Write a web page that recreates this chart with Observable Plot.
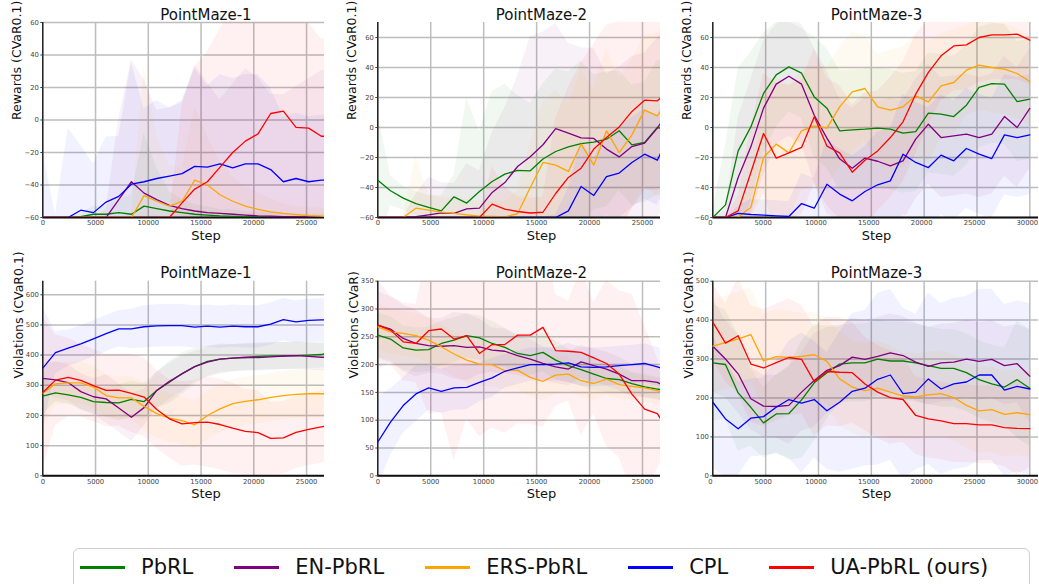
<!DOCTYPE html>
<html><head><meta charset="utf-8">
<script src="https://cdn.jsdelivr.net/npm/d3@7"></script>
<script src="https://cdn.jsdelivr.net/npm/@observablehq/plot@0.6"></script>
<style>
body{margin:0;background:#fff;}
#fig{position:relative;width:1039px;height:584px;overflow:hidden;font-family:"DejaVu Sans",sans-serif;background:#fff;}
.panel{position:absolute;}
#legend{position:absolute;left:73px;top:548px;width:957px;height:60px;border:1px solid #cfcfcf;border-radius:6px;box-sizing:border-box;background:#fff;}
#legend .row{display:flex;align-items:center;height:36px;padding-left:6px;}
#legend .item{display:flex;align-items:center;margin-right:41px;}
#legend .sw{width:45px;height:3px;margin-right:16px;}
#legend .lab{font-size:21px;color:#111;white-space:nowrap;}
</style>
</head><body>
<div id="fig"><div id="legend"><div class="row"></div></div></div>
<script>
// ---------- data ----------
const methods = ["PbRL", "EN-PbRL", "ERS-PbRL", "CPL", "UA-PbRL (ours)"];
const methodColors = ["green", "purple", "orange", "blue", "red"];

const steps27 = [0,1200,2400,3600,4800,6000,7200,8400,9600,10800,12000,13200,14400,15600,16800,18000,19200,20400,21600,22800,24000,25200,26400,26700];
const steps30 = [0,1200,2400,3600,4800,6000,7200,8400,9600,10800,12000,13200,14400,15600,16800,18000,19200,20400,21600,22800,24000,25200,26400,27600,28800,30000];

const xTicks27 = [0,5000,10000,15000,20000,25000];
const xTicks30 = [0,5000,10000,15000,20000,25000,30000];
const yTicksRew = [-60,-40,-20,0,20,40,60];
const yTicksVio1 = [0,100,200,300,400,500,600];
const yTicksVio2 = [0,50,100,150,200,250,300,350];
const yTicksVio3 = [0,100,200,300,400,500];

// Rewards (CVaR0.1), PointMaze-1 — order: PbRL, EN-PbRL, ERS-PbRL, CPL, UA-PbRL
const rewPM1 = [
  [-60,-60,-60,-59.5,-58,-58,-57,-58,-53,-54.5,-56,-57,-58,-58.5,-59,-59.3,-59.5,-59.7,-59.8,-59.9,-60,-60,-60,-60],
  [-60,-60,-60,-60,-60,-60,-49,-38,-45,-49,-52.5,-54.5,-56,-57,-57.5,-58,-58.5,-59,-59.2,-59.4,-59.5,-59.6,-59.7,-59.7],
  [-60,-60,-60,-60,-60,-60,-60,-60,-46.5,-50,-53,-50,-37,-40,-46,-50,-53,-55,-56.5,-57.5,-58.2,-58.8,-59.2,-59.3],
  [-60,-60,-60,-55.5,-57,-50.5,-47,-39.5,-38,-36,-34.5,-33,-28.5,-29,-27,-29.5,-27,-27,-30.5,-38,-36,-38,-37,-37],
  [-60,-60,-60,-60,-60,-60,-60,-60,-60,-60,-60,-51,-42.5,-38,-29,-20,-13,-8.5,4,5.5,-4.5,-5,-10,-10]
];
const rewPM1Sd = [
  [0,0,0,2,5,5,8,12,45,25,12,8,6,5,4,4,3,3,3,2,2,2,2,2],
  [0,0,0,0,0,5,50,75,70,55,60,65,90,80,70,80,90,85,75,75,80,85,90,90],
  [0,0,0,0,0,0,0,0,80,40,25,20,45,30,20,15,12,10,8,6,5,5,5,5],
  [40,2,55,40,30,40,37,75,45,48,42,45,60,50,55,55,55,55,50,40,40,40,40,40],
  [0,0,0,0,0,0,0,0,0,0,0,60,75,80,85,90,85,80,70,65,70,65,60,60]
];

// Rewards (CVaR0.1), PointMaze-2
const rewPM2 = [
  [-35.1,-42.2,-47.1,-50.7,-53.3,-55.6,-46.2,-50.4,-42.7,-36,-31.1,-28.6,-28.9,-21,-16,-12.9,-10.7,-9.8,-7.8,-2.2,-11.6,-10,0,-0.4],
  [-60,-60,-60,-59.5,-58.2,-56.9,-57.3,-54.2,-53.8,-43.3,-36.7,-26,-19.5,-11.5,-0.7,-3.8,-6.9,-7.3,-14.4,-19.6,-12.7,-10.4,-0.4,2.7],
  [-60,-60,-60,-53.8,-55.1,-56.4,-57.3,-58.2,-59.1,-59.3,-59.6,-57.5,-40,-23.3,-25.1,-29.3,-11.1,-25.1,-2.2,-16.7,-4.9,11.6,7.8,10.7],
  [-60,-60,-60,-60,-60,-60,-60,-60,-60,-60,-60,-60,-60,-60,-60,-55.6,-39.3,-45.3,-32.7,-30.4,-23.3,-17.8,-21.8,-17.3],
  [-60,-60,-60,-60,-60,-60,-60,-60,-60,-51.1,-54.4,-56,-57,-56.5,-44,-33.3,-27.1,-14.4,-6.7,0.4,10.7,18.2,17.8,19.6]
];
const rewPM2Sd = [
  [45,10,8,8,8,10,15,70,40,60,60,50,45,50,55,50,55,45,45,40,40,40,45,45],
  [0,0,0,15,25,20,20,30,25,40,50,60,80,75,70,60,60,60,50,60,60,60,60,60],
  [0,0,0,35,10,10,10,10,10,10,10,15,30,40,50,45,50,50,55,50,50,50,55,55],
  [0,0,0,0,0,0,0,0,0,0,0,0,0,0,2,15,30,25,30,30,30,30,30,30],
  [0,0,0,0,0,0,0,0,0,25,15,10,10,10,50,60,70,70,75,70,65,60,60,60]
];

// Rewards (CVaR0.1), PointMaze-3
const rewPM3 = [
  [-60,-51.6,-15.6,0.4,22.7,35.1,40.4,36.2,20.4,12.9,-2.2,-1.6,-1.1,-0.4,-1.1,-3.8,-2.7,9.6,8.9,7.3,14.9,26.7,29.3,28.9,17.3,18.9],
  [-60,-60,-33.3,-12.9,12.9,28.9,34.2,28.9,8.2,-7.1,-20.9,-27.1,-20.4,-22.5,-25.6,-22.2,-7.8,2.2,-6.7,-5.6,-4.4,-6.7,-4.4,7.3,0,12.7],
  [-60,-60,-59.6,-53.3,-20,-11.1,-16.9,-2.2,1.1,-0.4,13.8,23.8,26,13.8,11.6,13.8,21.1,17.1,27.8,30,38.2,41.6,40,38.9,36,30.7],
  [-60,-60,-57.3,-58,-58.4,-58.9,-59.3,-50.7,-53.8,-37.8,-44.4,-48.9,-42.7,-38.2,-35.6,-17.8,-23.3,-26.7,-18.4,-22.2,-14,-17.8,-20.7,-4.9,-6.7,-4.9],
  [-60,-60,-55.6,-30,-4,-20.4,-16.9,-13.3,7.1,-12.4,-16.9,-29.8,-21.8,-15.6,-6.7,3.8,22.2,36.7,47.8,54.4,55.1,60,61.8,61.8,62.2,58.2]
];
const rewPM3Sd = [
  [5,40,55,50,40,35,30,30,40,40,40,40,40,40,40,40,40,40,40,40,40,40,40,40,40,40],
  [0,5,40,45,45,40,40,40,45,45,40,40,40,40,45,40,40,40,40,40,40,40,40,40,40,40],
  [0,0,5,15,40,45,45,40,40,40,40,40,35,35,40,40,40,40,35,35,30,30,30,30,30,30],
  [0,0,5,10,10,10,10,20,20,30,30,30,30,35,35,40,40,40,40,40,40,40,40,40,40,40],
  [0,0,10,30,40,50,45,45,45,45,45,45,45,40,40,40,40,35,30,30,30,30,30,30,30,30]
];

// Violations (CVaR0.1), PointMaze-1
const vioPM1 = [
  [264,275,268,260,246,243,242,253,246,283,310,339,362,379,387,390,392,396,397,397,398,400,402,404],
  [323,318,309,279,262,255,225,194,226,283,313,338,362,377,387,390,393,392,394,397,398,396,393,393],
  [274,305,308,308,294,266,258,258,230,206,191,183,169,200,222,239,247,252,260,266,270,272,272,272],
  [357,408,423,437,454,471,487,487,494,497,498,498,493,496,493,496,494,494,503,518,510,515,517,517],
  [276,317,326,316,299,283,284,273,261,220,189,172,176,178,170,158,147,143,124,126,144,154,162,164]
];
const vioPM1Sd = [
  [60,30,30,40,40,50,60,60,60,60,70,70,60,50,45,45,45,45,45,45,45,45,45,45],
  [40,60,60,60,60,80,80,80,60,60,60,60,50,50,50,45,45,45,45,45,45,45,45,45],
  [120,70,70,70,70,70,70,70,80,80,80,80,80,80,80,80,80,80,80,80,80,80,80,80],
  [200,70,60,60,60,60,60,65,70,70,70,70,70,70,70,70,70,70,70,70,70,70,70,70],
  [250,150,130,120,120,120,120,130,130,130,130,140,140,150,150,150,140,140,120,120,120,120,120,120]
];

// Violations (CVaR), PointMaze-2
const vioPM2 = [
  [253,246,230,226,227,238,244,252,248,238,231,220,216,222,208,198,191,183,175,173,166,160,156,155],
  [271,264,247,238,234,233,234,231,232,226,224,216,210,202,196,192,205,198,192,183,171,171,168,165],
  [268,259,256,252,244,232,219,208,201,200,189,190,177,170,181,183,171,166,174,164,161,158,153,151],
  [60.8,96.6,126.4,147.3,158,152,158,159,168,176,188,194,200,200,201,203,196,195,196,198,200,202,196,194],
  [271,262,241,238,261,264,246,252,220,236,236,253,253,267,225,224,222,212,202,183,147,120,112,103]
];
const vioPM2Sd = [
  [40,40,40,40,40,40,40,40,40,40,35,35,35,35,35,30,30,30,25,25,20,20,20,20],
  [80,60,60,60,50,50,60,60,50,40,40,35,35,30,30,30,30,30,30,30,30,30,30,30],
  [40,40,40,40,40,40,40,40,40,40,35,35,35,35,35,30,30,30,30,25,25,25,25,25],
  [80,60,50,50,40,40,40,40,35,35,30,30,30,30,30,35,35,35,35,35,35,35,35,35],
  [60,60,70,70,150,150,220,150,150,150,160,160,160,180,100,90,150,100,150,150,180,150,100,80]
];

// Violations (CVaR0.1), PointMaze-3
const vioPM3 = [
  [290,286,213,176,136,159,160,195,239,265,287,290,290,300,295,295,290,283,276,276,265,247,236,228,247,225],
  [333,300,262,198,179,178,181,215,245,271,283,305,299,307,316,309,292,281,290,292,300,294,299,283,288,256],
  [333,342,352,363,295,306,304,307,311,294,249,228,219,225,215,205,203,208,211,201,181,167,170,158,162,157],
  [189,146,121,148,152,176,196,187,196,167,189,217,225,248,259,211,215,249,223,236,241,259,259,220,230,223],
  [395,341,360,287,277,291,304,299,242,268,266,265,236,215,201,196,155,146,141,134,134,131,131,124,122,121]
];
const vioPM3Sd = [
  [150,140,150,100,90,100,120,150,150,120,100,100,100,100,100,100,100,100,100,100,100,100,100,100,150,150],
  [120,100,100,80,80,80,100,100,120,110,100,100,100,100,100,100,100,100,100,100,100,100,100,100,100,120],
  [120,120,120,120,120,120,120,110,110,110,120,120,120,120,120,110,110,110,110,110,110,110,110,110,110,110],
  [170,150,120,100,100,120,150,180,150,150,180,200,200,220,220,220,200,220,220,220,220,220,220,220,220,220],
  [100,100,150,150,150,150,150,140,140,140,140,130,120,120,120,110,100,100,100,100,100,100,100,100,120,100]
];

// ---------- drawing ----------
const fmt = d => d < 0 ? "\u2212" + Math.abs(d) : String(d);

function rowsOf(steps, means, sds) {
  const rows = [];
  means.forEach((arr, s) => arr.forEach((v, i) => {
    rows.push({series: methods[s], step: steps[i], value: v, lo: v - sds[s][i], hi: v + sds[s][i]});
  }));
  return rows;
}

function panel(cfg) {
  const rows = rowsOf(cfg.steps, cfg.means, cfg.sds);
  const grid = {stroke: "#bdbdbd", strokeOpacity: 1, strokeWidth: 1.5};
  const svg = Plot.plot({
    width: cfg.width, height: cfg.height,
    marginLeft: cfg.mL, marginRight: cfg.mR, marginTop: cfg.mT, marginBottom: cfg.mB,
    x: {domain: cfg.xDomain},
    y: {domain: cfg.yDomain},
    color: {domain: methods, range: methodColors},
    style: {fontFamily: "DejaVu Sans", background: "transparent", overflow: "visible"},
    marks: [
      Plot.gridX(cfg.xTicks, grid),
      Plot.gridY(cfg.yTicks, grid),
      Plot.areaY(rows, {x: "step", y1: "lo", y2: "hi", z: "series", fill: "series", fillOpacity: 0.055, clip: true}),
      Plot.ruleY([cfg.yDomain[0]], {stroke: "#111", strokeWidth: 2}),
      Plot.ruleX([cfg.xDomain[0]], {stroke: "#000", strokeWidth: 1.2}),
      Plot.line(rows, {x: "step", y: "value", z: "series", stroke: "series", strokeWidth: 1.3, clip: true}),
      Plot.axisX(cfg.xTicks, {tickSize: 0, tickPadding: 3, fontSize: 6.8, color: "#444", dx: cfg.xdx, tickFormat: d => String(d), label: null}),
      Plot.axisY(cfg.yTicks, {tickSize: 2, tickPadding: 2, fontSize: 6.8, color: "#444", tickFormat: fmt, label: null}),
      Plot.text([cfg.title], {text: d => d, frameAnchor: "top", dx: cfg.tdx, dy: -3, lineAnchor: "bottom", fontSize: 15, fill: "#111"}),
      Plot.text(["Step"], {text: d => d, frameAnchor: "bottom", dx: cfg.tdx, dy: 22.4, lineAnchor: "bottom", fontSize: 13, fill: "#111"}),
      Plot.text([cfg.ylabel], {text: d => d, frameAnchor: "left", dx: cfg.ldx, rotate: -90, lineAnchor: "middle", fontSize: 12.5, fill: "#111"})
    ]
  });
  svg.classList.add("panel");
  svg.style.left = cfg.left + "px";
  svg.style.top = cfg.top + "px";
  document.getElementById("fig").appendChild(svg);
}

const top1 = {top: 0, height: 255, mT: 22, mB: 38, ldx: -25.8};
const top2 = {top: 255, height: 255, mT: 25.7, mB: 34.7, ldx: -24};
const col1 = {left: 0, width: 340, mL: 42.3, mR: 16, tdx: 22.3, xdx: 0, steps: steps27, xDomain: [0, 26700], xTicks: xTicks27};
const col2 = {left: 340, width: 340, mL: 37.3, mR: 20, tdx: 22.3, xdx: 0, steps: steps27, xDomain: [0, 26700], xTicks: xTicks27};
const col3 = {left: 680, width: 359, mL: 32.3, mR: 1, tdx: 0.9, xdx: -2.5, steps: steps30, xDomain: [0, 30820], xTicks: xTicks30};

panel({...top1, ...col1, title: "PointMaze-1", ylabel: "Rewards (CVaR0.1)", yDomain: [-60, 60], yTicks: yTicksRew, means: rewPM1, sds: rewPM1Sd});
panel({...top1, ...col2, title: "PointMaze-2", ylabel: "Rewards (CVaR0.1)", yDomain: [-60, 70], yTicks: yTicksRew, means: rewPM2, sds: rewPM2Sd});
panel({...top1, ...col3, title: "PointMaze-3", ylabel: "Rewards (CVaR0.1)", yDomain: [-60, 70], yTicks: yTicksRew, means: rewPM3, sds: rewPM3Sd});
panel({...top2, ...col1, title: "PointMaze-1", ylabel: "Violations (CVaR0.1)", yDomain: [0, 645], yTicks: yTicksVio1, means: vioPM1, sds: vioPM1Sd});
panel({...top2, ...col2, title: "PointMaze-2", ylabel: "Violations (CVaR)", yDomain: [0, 350], yTicks: yTicksVio2, means: vioPM2, sds: vioPM2Sd});
panel({...top2, ...col3, title: "PointMaze-3", ylabel: "Violations (CVaR0.1)", yDomain: [0, 500], yTicks: yTicksVio3, means: vioPM3, sds: vioPM3Sd});

// legend
const row = document.querySelector("#legend .row");
methods.forEach((m, i) => {
  const it = document.createElement("div"); it.className = "item";
  const sw = document.createElement("div"); sw.className = "sw"; sw.style.background = methodColors[i];
  const lb = document.createElement("div"); lb.className = "lab"; lb.textContent = m;
  it.appendChild(sw); it.appendChild(lb); row.appendChild(it);
});
</script>
</body></html>
